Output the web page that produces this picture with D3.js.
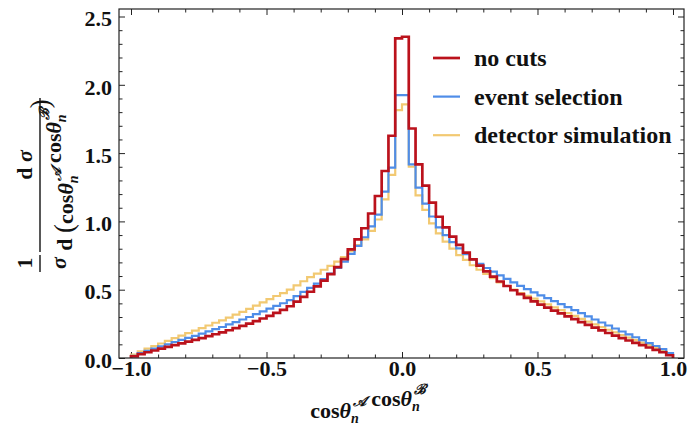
<!DOCTYPE html>
<html>
<head>
<meta charset="utf-8">
<script src="https://cdn.jsdelivr.net/npm/d3@7"></script>
<style>
  body { margin: 0; background: #fff; }
</style>
</head>
<body>
<script>
// histogram bins: 80 bins of width 0.025 on [-1, 1]
const binStart = -1;
const binWidth = 0.025;

const noCuts = [
  0.012, 0.028, 0.042, 0.055, 0.068, 0.081, 0.094, 0.107, 0.120, 0.133,
  0.146, 0.160, 0.174, 0.188, 0.203, 0.219, 0.235, 0.252, 0.270, 0.289,
  0.309, 0.330, 0.352, 0.379, 0.412, 0.448, 0.485, 0.524, 0.567, 0.614,
  0.666, 0.724, 0.795, 0.869, 0.950, 1.058, 1.186, 1.369, 1.627, 2.340,
  2.352, 1.680, 1.418, 1.262, 1.138, 1.034, 0.957, 0.889, 0.828, 0.772,
  0.722, 0.676, 0.634, 0.596, 0.560, 0.527, 0.496, 0.467, 0.440, 0.414,
  0.391, 0.369, 0.347, 0.326, 0.305, 0.284, 0.263, 0.242, 0.222, 0.202,
  0.183, 0.164, 0.146, 0.128, 0.111, 0.094, 0.077, 0.060, 0.042, 0.020
];
const eventSelection = [
  0.016, 0.036, 0.053, 0.069, 0.085, 0.100, 0.117, 0.132, 0.148, 0.162,
  0.178, 0.195, 0.211, 0.227, 0.246, 0.263, 0.282, 0.300, 0.321, 0.341,
  0.362, 0.381, 0.401, 0.424, 0.453, 0.484, 0.514, 0.545, 0.578, 0.617,
  0.659, 0.706, 0.763, 0.821, 0.884, 0.963, 1.050, 1.218, 1.393, 1.925,
  1.925, 1.418, 1.248, 1.130, 1.036, 0.956, 0.900, 0.849, 0.803, 0.760,
  0.722, 0.690, 0.659, 0.632, 0.605, 0.580, 0.553, 0.528, 0.504, 0.480,
  0.459, 0.439, 0.416, 0.394, 0.372, 0.351, 0.329, 0.305, 0.282, 0.260,
  0.238, 0.216, 0.194, 0.173, 0.152, 0.131, 0.109, 0.088, 0.065, 0.036
];
const detectorSimulation = [
  0.024, 0.048, 0.068, 0.087, 0.106, 0.126, 0.145, 0.164, 0.182, 0.201,
  0.219, 0.238, 0.258, 0.276, 0.296, 0.318, 0.338, 0.360, 0.383, 0.407,
  0.431, 0.454, 0.475, 0.500, 0.531, 0.562, 0.592, 0.618, 0.646, 0.675,
  0.706, 0.738, 0.783, 0.826, 0.869, 0.931, 1.014, 1.161, 1.340, 1.815,
  1.857, 1.400, 1.191, 1.085, 0.985, 0.913, 0.852, 0.800, 0.753, 0.718,
  0.679, 0.646, 0.615, 0.584, 0.554, 0.527, 0.501, 0.476, 0.455, 0.435,
  0.414, 0.393, 0.371, 0.350, 0.329, 0.308, 0.287, 0.266, 0.246, 0.226,
  0.207, 0.187, 0.168, 0.149, 0.131, 0.113, 0.094, 0.075, 0.055, 0.028
];

const xTicks = [-1, -0.5, 0, 0.5, 1];
const yTicks = [0, 0.5, 1, 1.5, 2, 2.5];

const series = [
  {name: 'detector simulation', values: detectorSimulation, color: '#f2c972', width: 2.2},
  {name: 'event selection', values: eventSelection, color: '#4f8de8', width: 2.2},
  {name: 'no cuts', values: noCuts, color: '#bb121c', width: 2.7}
];
const legendOrder = ['no cuts', 'event selection', 'detector simulation'];

const W = 688, H = 428;
const margin = {top: 9, right: 4, bottom: 70, left: 119};
const width = W - margin.left - margin.right;
const height = H - margin.top - margin.bottom;
const FONT = "'Liberation Serif', 'Times New Roman', Times, serif";

const svg = d3.select('body').append('svg')
  .attr('width', W)
  .attr('height', H)
  .attr('font-family', FONT)
  .attr('font-weight', 'bold');

const x = d3.scaleLinear().domain([-1.0443, 1.0406]).range([0, width]);
const y = d3.scaleLinear().domain([0, 2.555]).range([height, 0]);

const g = svg.append('g')
  .attr('transform', 'translate(' + margin.left + ',' + margin.top + ')');

// minor ticks (0.1 steps) on all four sides
const xMinor = d3.range(-10, 11).map(i => i / 10).filter(v => xTicks.indexOf(v) < 0);
const yMinor = d3.range(0, 26).map(i => i / 10).filter(v => yTicks.indexOf(v) < 0);

function styleAxis(sel) {
  sel.attr('font-family', FONT).attr('font-weight', 'bold');
  sel.select('.domain').remove();
  sel.selectAll('line').attr('stroke', '#222').attr('stroke-width', 1);
  sel.selectAll('text').attr('font-size', 22).attr('fill', '#111');
}

g.append('g').attr('transform', 'translate(0,' + height + ')')
  .call(d3.axisBottom(x).tickValues(xMinor).tickSize(-3.5).tickFormat(''))
  .call(styleAxis);
g.append('g')
  .call(d3.axisTop(x).tickValues(xMinor).tickSize(-3.5).tickFormat(''))
  .call(styleAxis);
g.append('g')
  .call(d3.axisLeft(y).tickValues(yMinor).tickSize(-3.5).tickFormat(''))
  .call(styleAxis);
g.append('g').attr('transform', 'translate(' + width + ',0)')
  .call(d3.axisRight(y).tickValues(yMinor).tickSize(-3.5).tickFormat(''))
  .call(styleAxis);

// major ticks with labels
g.append('g').attr('transform', 'translate(0,' + height + ')')
  .call(d3.axisBottom(x).tickValues(xTicks).tickSize(-6).tickPadding(2).tickFormat(d3.format('.1f')))
  .call(styleAxis);
g.append('g')
  .call(d3.axisTop(x).tickValues(xTicks).tickSize(-6).tickFormat(''))
  .call(styleAxis);
g.append('g')
  .call(d3.axisLeft(y).tickValues(yTicks).tickSize(-6).tickPadding(7).tickFormat(d3.format('.1f')))
  .call(styleAxis)
  .selectAll('text').attr('dy', '0.42em');
g.append('g').attr('transform', 'translate(' + width + ',0)')
  .call(d3.axisRight(y).tickValues(yTicks).tickSize(-6).tickFormat(''))
  .call(styleAxis);

// histogram step lines
const line = d3.line()
  .x(d => x(d[0]))
  .y(d => y(d[1]))
  .curve(d3.curveStepAfter);

series.forEach(s => {
  const pts = [[binStart, 0]];
  s.values.forEach((v, i) => pts.push([binStart + i * binWidth, v]));
  pts.push([binStart + s.values.length * binWidth, 0]);
  g.append('path')
    .attr('d', line(pts))
    .attr('fill', 'none')
    .attr('stroke', s.color)
    .attr('stroke-width', s.width)
    .attr('stroke-linejoin', 'miter');
});

// frame
g.append('rect')
  .attr('width', width)
  .attr('height', height)
  .attr('fill', 'none')
  .attr('stroke', '#222')
  .attr('stroke-width', 1.2);

// legend
const legend = svg.append('g').attr('transform', 'translate(433,58)');
legendOrder.forEach((name, i) => {
  const s = series.find(d => d.name === name);
  const row = legend.append('g').attr('transform', 'translate(0,' + (i * 38.6) + ')');
  row.append('line')
    .attr('x1', 0).attr('x2', 27)
    .attr('stroke', s.color)
    .attr('stroke-width', s.width);
  row.append('text')
    .attr('x', 41).attr('y', 8)
    .attr('font-size', 24)
    .attr('fill', '#111')
    .text(name);
});

// cos(theta) with stacked sub- and superscript
function cosTheta(t, sup, lead) {
  t.append('tspan').text(lead + 'cos');
  t.append('tspan').attr('font-style', 'italic').text('θ');
  t.append('tspan').attr('font-size', 14).attr('font-style', 'italic').attr('dy', 5).text('n');
  t.append('tspan').attr('font-size', 14).attr('font-style', 'italic').attr('dx', -6).attr('dy', -17).text(sup);
  t.append('tspan').attr('dy', 12).text('');
}

// x axis title
const xt = svg.append('text')
  .attr('x', 368).attr('y', 418)
  .attr('text-anchor', 'middle')
  .attr('font-size', 22)
  .attr('fill', '#111');
cosTheta(xt, '𝒜', '');
cosTheta(xt, 'ℬ', ' ');

// y axis title, rotated
const yl = svg.append('g').attr('transform', 'translate(40,175) rotate(-90)').attr('fill', '#111');
yl.append('text').attr('x', -88).attr('y', -8).attr('text-anchor', 'middle').attr('font-size', 22).text('1');
yl.append('line').attr('x1', -97).attr('x2', -80).attr('stroke', '#111').attr('stroke-width', 1.4);
yl.append('text').attr('x', -88).attr('y', 26).attr('text-anchor', 'middle').attr('font-size', 22)
  .attr('font-style', 'italic').text('σ');

const num = yl.append('text').attr('x', 10).attr('y', -8).attr('text-anchor', 'middle').attr('font-size', 22);
num.append('tspan').text('d ');
num.append('tspan').attr('font-style', 'italic').text('σ');
yl.append('line').attr('x1', -77).attr('x2', 77).attr('stroke', '#111').attr('stroke-width', 1.4);

const den = yl.append('text').attr('x', 0).attr('y', 32).attr('text-anchor', 'middle').attr('font-size', 22);
den.append('tspan').text('d ');
den.append('tspan').attr('font-weight', 'normal').attr('font-size', 27).attr('dy', 1).text('(');
cosTheta(den, '𝒜', '');
cosTheta(den, 'ℬ', ' ');
den.append('tspan').attr('font-weight', 'normal').attr('font-size', 27).text(')');
</script>
</body>
</html>
